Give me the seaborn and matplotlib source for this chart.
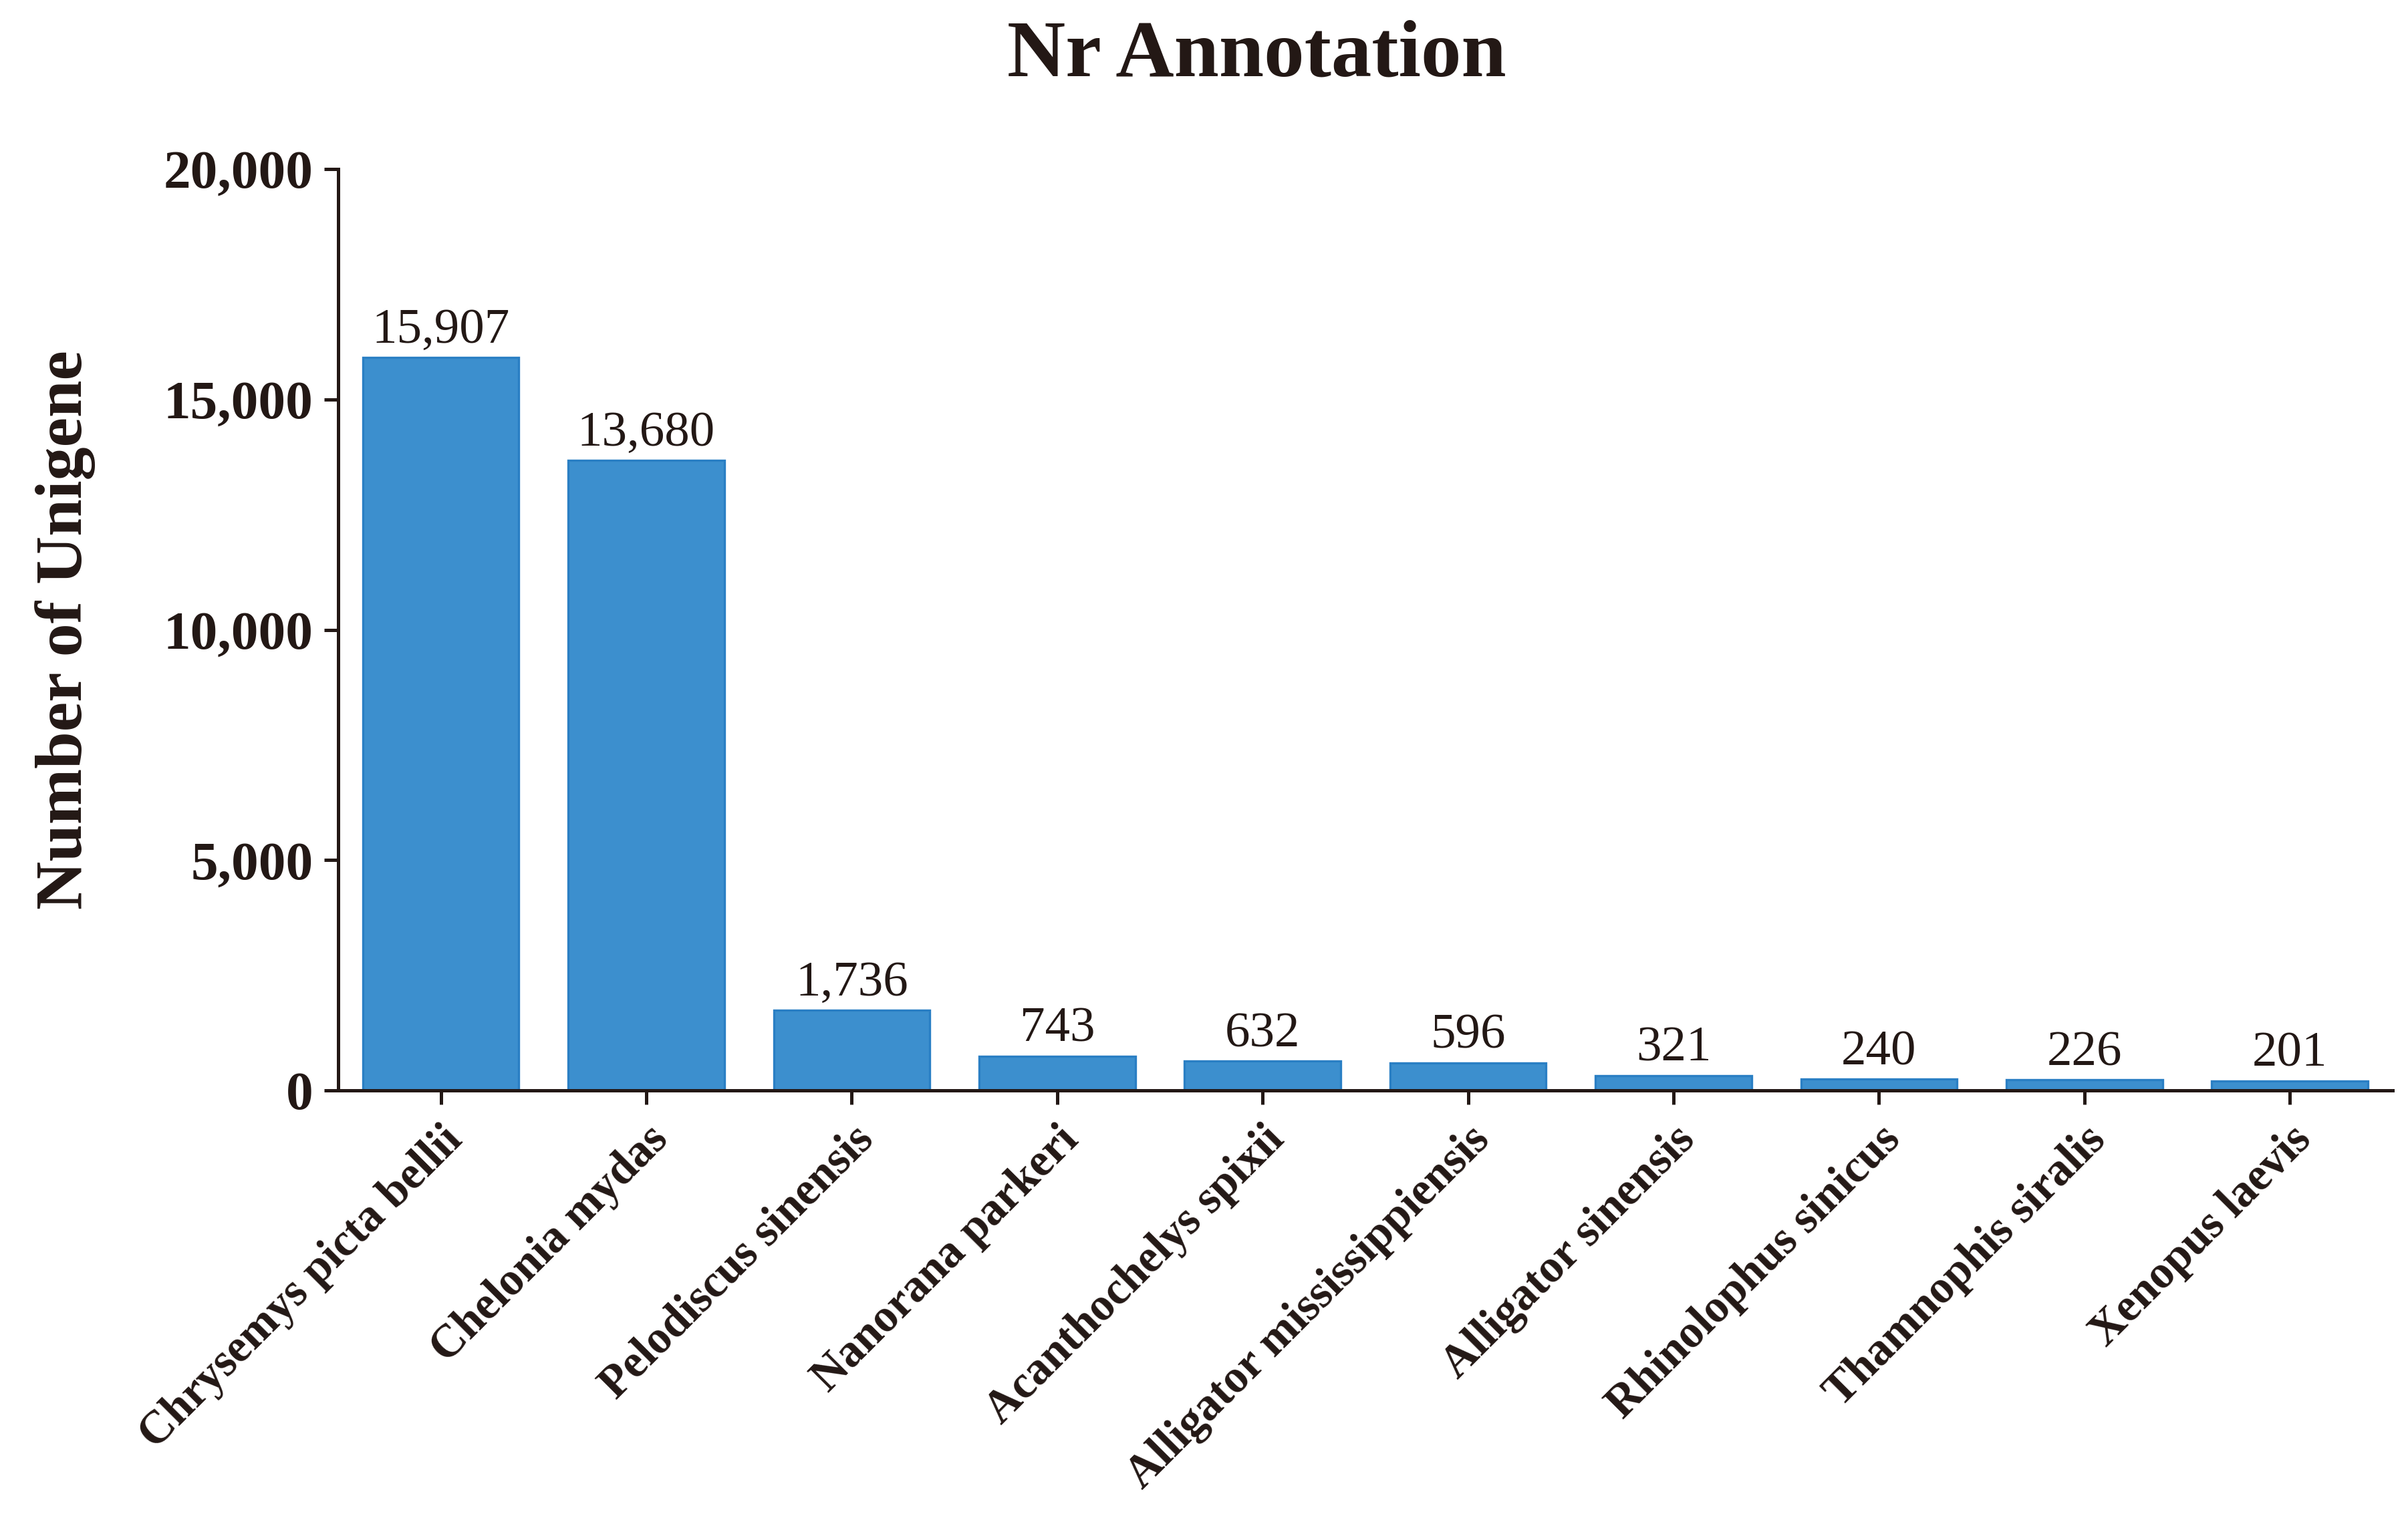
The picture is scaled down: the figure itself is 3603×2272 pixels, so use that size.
import pandas as pd
import matplotlib.pyplot as plt
import seaborn as sns
from matplotlib.ticker import FuncFormatter

species = ['Chrysemys picta bellii', 'Chelonia mydas', 'Pelodiscus sinensis',
           'Nanorana parkeri', 'Acanthochelys spixii', 'Alligator mississippiensis',
           'Alligator sinensis', 'Rhinolophus sinicus', 'Thamnophis siralis',
           'Xenopus laevis']
counts = [15907, 13680, 1736, 743, 632, 596, 321, 240, 226, 201]

df = pd.DataFrame({'species': species, 'count': counts})

sns.set_style('ticks')
plt.rcParams['font.family'] = ['Liberation Serif', 'DejaVu Serif']
ink = '#231815'

fig = plt.figure(figsize=(3603 / 300, 2272 / 300), dpi=300)
ax = fig.add_axes([0.1404, 0.2817, 0.8532, 0.6069])

sns.barplot(data=df, x='species', y='count', color='#3C8FCE', saturation=1,
            edgecolor='#2A7FC4', linewidth=0.8, width=0.76, ax=ax)

ax.set_ylim(0, 20000)
ax.set_xlim(-0.5, 9.5)
ax.set_yticks([0, 5000, 10000, 15000, 20000])
ax.yaxis.set_major_formatter(FuncFormatter(lambda v, p: f'{int(v):,}'))

for c in ax.containers:
    ax.bar_label(c, labels=[f'{v:,}' for v in counts], padding=1.5,
                 fontsize=18, color=ink)

sns.despine(ax=ax)
for s in ['left', 'bottom']:
    ax.spines[s].set_linewidth(1.2)
    ax.spines[s].set_color(ink)
ax.tick_params(axis='both', width=1.2, length=5, color=ink, labelcolor=ink)
ax.tick_params(axis='y', labelsize=19.5, pad=4)
ax.tick_params(axis='x', labelsize=16.5, pad=5)
for t in ax.get_yticklabels():
    t.set_fontweight('bold')
ax.set_xticks(range(len(species)))
ax.set_xticklabels(species, rotation=45, ha='right', rotation_mode='anchor',
                   fontweight='bold')

ax.set_xlabel('')
ax.set_ylabel('Number of Unigene', fontsize=24, fontweight='bold', color=ink)
ax.yaxis.set_label_coords(-0.118, 0.5)

fig.text(0.522, 0.9626, 'Nr Annotation', ha='center', va='center',
         fontsize=29, fontweight='bold', color=ink)

fig.savefig('out.png', dpi=300)
